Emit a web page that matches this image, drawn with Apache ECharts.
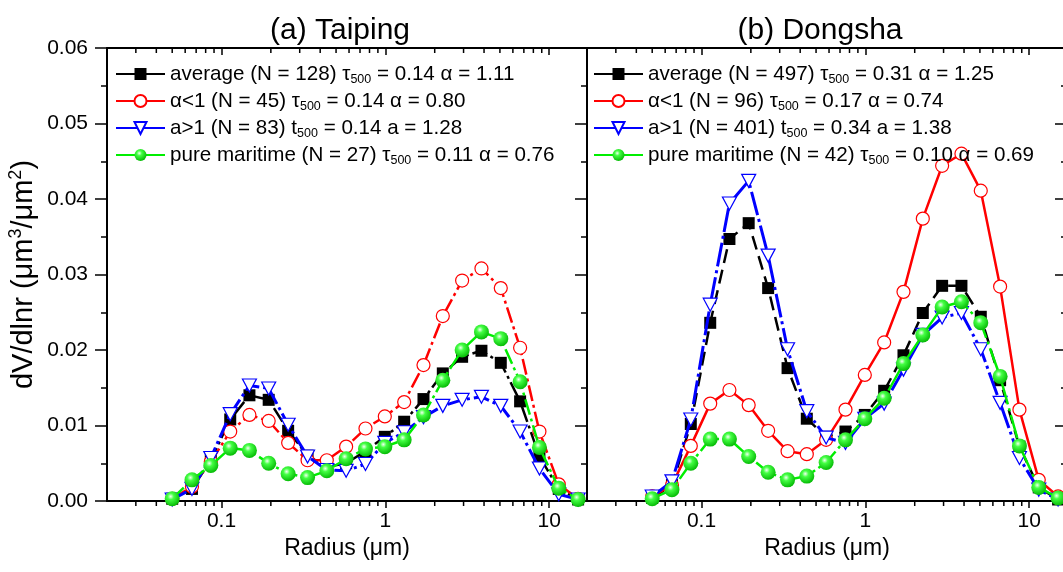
<!DOCTYPE html>
<html><head><meta charset="utf-8">
<script src="https://cdn.jsdelivr.net/npm/echarts@6/dist/echarts.min.js"></script>
<style>html,body{margin:0;padding:0;background:#fff}#c{width:1063px;height:572px}</style>
</head><body><div id="c"></div>
<script>
// ---- data ----
const radius = [0.050, 0.066, 0.086, 0.113, 0.148, 0.194, 0.255, 0.335, 0.439, 0.576, 0.756, 0.992, 1.302, 1.708, 2.241, 2.940, 3.857, 5.061, 6.641, 8.713, 11.432, 15.000];

const taipingAverage  = [0.0003, 0.0016, 0.0054, 0.0108, 0.0140, 0.0134, 0.0093, 0.0060, 0.0045, 0.0050, 0.0066, 0.0085, 0.0105, 0.0135, 0.0169, 0.0191, 0.0199, 0.0183, 0.0132, 0.0059, 0.0016, 0.0002];
const taipingAlphaLow = [0.0003, 0.0019, 0.0052, 0.0092, 0.0114, 0.0106, 0.0077, 0.0054, 0.0054, 0.0072, 0.0096, 0.0112, 0.0131, 0.0180, 0.0245, 0.0292, 0.0308, 0.0282, 0.0203, 0.0092, 0.0022, 0.0003];
const taipingAlphaHigh= [0.0002, 0.0016, 0.0057, 0.0115, 0.0153, 0.0149, 0.0101, 0.0059, 0.0041, 0.0040, 0.0049, 0.0077, 0.0091, 0.0111, 0.0126, 0.0134, 0.0138, 0.0126, 0.0092, 0.0043, 0.0009, 0.0002];
const taipingMaritime = [0.0003, 0.0028, 0.0047, 0.0070, 0.0067, 0.0050, 0.0036, 0.0031, 0.0040, 0.0056, 0.0069, 0.0072, 0.0081, 0.0114, 0.0160, 0.0200, 0.0224, 0.0215, 0.0158, 0.0071, 0.0017, 0.0002];

const dongshaAverage  = [0.0004, 0.0021, 0.0102, 0.0236, 0.0347, 0.0368, 0.0282, 0.0176, 0.0109, 0.0085, 0.0092, 0.0114, 0.0146, 0.0193, 0.0249, 0.0285, 0.0285, 0.0244, 0.0160, 0.0072, 0.0018, 0.0002];
const dongshaAlphaLow = [0.0006, 0.0021, 0.0073, 0.0129, 0.0147, 0.0127, 0.0093, 0.0066, 0.0062, 0.0081, 0.0121, 0.0167, 0.0210, 0.0277, 0.0374, 0.0444, 0.0460, 0.0411, 0.0284, 0.0121, 0.0028, 0.0006];
const dongshaAlphaHigh= [0.0006, 0.0026, 0.0108, 0.0260, 0.0394, 0.0424, 0.0325, 0.0201, 0.0119, 0.0084, 0.0077, 0.0109, 0.0129, 0.0174, 0.0220, 0.0243, 0.0249, 0.0201, 0.0130, 0.0057, 0.0015, 0.0002];
const dongshaMaritime = [0.0003, 0.0015, 0.0050, 0.0082, 0.0082, 0.0059, 0.0038, 0.0028, 0.0033, 0.0051, 0.0081, 0.0109, 0.0136, 0.0182, 0.0220, 0.0257, 0.0264, 0.0236, 0.0165, 0.0073, 0.0018, 0.0004];

const panelTitles = ['(a) Taiping', '(b) Dongsha'];
const xTickLabels = ['0.1', '1', '10'];
const xAxisTitle = 'Radius (\u03bcm)';
const yAxisTitle = 'dV/dlnr (\u03bcm{sup|3}/\u03bcm{sup|2})';
const taipingLegend = [
  'average (N = 128) \u03c4{s|500} = 0.14 \u03b1 = 1.11',
  '\u03b1<1 (N = 45) \u03c4{s|500} = 0.14 \u03b1 = 0.80',
  'a>1 (N = 83) t{s|500} = 0.14 a = 1.28',
  'pure maritime (N = 27) \u03c4{s|500} = 0.11 \u03b1 = 0.76'
];
const dongshaLegend = [
  'average (N = 497) \u03c4{s|500} = 0.31 \u03b1 = 1.25',
  '\u03b1<1 (N = 96) \u03c4{s|500} = 0.17 \u03b1 = 0.74',
  'a>1 (N = 401) t{s|500} = 0.34 a = 1.38',
  'pure maritime (N = 42) \u03c4{s|500} = 0.10 \u03b1 = 0.69'
];

// ---- layout / style ----
const FONT = 'Arial, "Liberation Sans", sans-serif';
const GRID_TOP = 48, GRID_H = 453, PANEL_W = 480;
const PANEL_LEFT = [107, 587];
const XMIN = 0.02, XMAX = 17;

const chart = echarts.init(document.getElementById('c'), null, {renderer: 'canvas'});

const greenBall = new echarts.graphic.RadialGradient(0.4, 0.35, 0.7, [
  {offset: 0, color: '#f2fff2'},
  {offset: 0.3, color: '#44ff44'},
  {offset: 1, color: '#00b400'}
]);

const dashDot = [16, 4, 3, 4];
const triPath = 'path://M0,0L10,0L5,9Z';
const seriesStyles = [
  [ // Taiping
    {symbol: 'rect', symbolSize: 12, itemStyle: {color: '#000'}, lineStyle: {color: '#000', width: 2.5, type: dashDot}},
    {symbol: 'circle', symbolSize: 13, itemStyle: {color: '#fff', borderColor: '#ff0000', borderWidth: 1.2}, lineStyle: {color: '#ff0000', width: 2.5, type: dashDot}},
    {symbol: triPath, symbolSize: [14, 13], itemStyle: {color: '#fff', borderColor: '#0000ff', borderWidth: 1.2}, lineStyle: {color: '#0000ff', width: 3, type: dashDot}},
    {symbol: 'circle', symbolSize: 15, itemStyle: {color: greenBall}, lineStyle: {color: '#00ee00', width: 2.5, type: dashDot}}
  ],
  [ // Dongsha
    {symbol: 'rect', symbolSize: 12, itemStyle: {color: '#000'}, lineStyle: {color: '#000', width: 2.5, type: [14, 7]}},
    {symbol: 'circle', symbolSize: 13, itemStyle: {color: '#fff', borderColor: '#ff0000', borderWidth: 1.2}, lineStyle: {color: '#ff0000', width: 2.5, type: 'solid'}},
    {symbol: triPath, symbolSize: [14, 13], itemStyle: {color: '#fff', borderColor: '#0000ff', borderWidth: 1.2}, lineStyle: {color: '#0000ff', width: 3, type: [24, 4, 3, 4]}},
    {symbol: 'circle', symbolSize: 15, itemStyle: {color: greenBall}, lineStyle: {color: '#00ee00', width: 2.5, type: [24, 4, 3, 4]}}
  ]
];

const panelData = [
  [taipingAverage, taipingAlphaLow, taipingAlphaHigh, taipingMaritime],
  [dongshaAverage, dongshaAlphaLow, dongshaAlphaHigh, dongshaMaritime]
];
const panelLegend = [taipingLegend, dongshaLegend];
const panelKey = ['A', 'B'];

const legendMap = {};
const series = [];
const grids = [], xAxes = [], yAxes = [], legends = [];

for (let p = 0; p < 2; p++) {
  grids.push({left: PANEL_LEFT[p], top: GRID_TOP, width: PANEL_W, height: GRID_H, containLabel: false, outerBoundsMode: 'none'});
  const axisLine = {show: true, onZero: false, lineStyle: {color: '#000', width: 2}};
  xAxes.push({
    gridIndex: p, type: 'log', logBase: 10, min: XMIN, max: XMAX, position: 'bottom',
    axisLine, splitLine: {show: false},
    axisTick: {show: true, inside: false, length: 7, lineStyle: {color: '#000', width: 1.5}},
    axisLabel: {show: true, color: '#000', fontSize: 21, fontFamily: FONT, margin: 10,
      showMinLabel: false, showMaxLabel: false,
      formatter: v => { const s = String(+(+v).toPrecision(3)); return xTickLabels.includes(s) ? s : ''; }},
    name: xAxisTitle, nameLocation: 'middle', nameGap: 36,
    nameTextStyle: {color: '#000', fontSize: 23, fontFamily: FONT}
  });
  xAxes.push({
    gridIndex: p, type: 'log', logBase: 10, min: XMIN, max: XMAX, position: 'top',
    axisLine, splitLine: {show: false},
    axisTick: {show: true, inside: true, length: 7, lineStyle: {color: '#000', width: 1.5}},
    axisLabel: {show: false}
  });
  yAxes.push({
    gridIndex: p, type: 'value', min: 0, max: 0.06, interval: 0.01, position: 'left',
    axisLine, splitLine: {show: false},
    axisTick: {show: true, inside: false, length: 12, lineStyle: {color: '#000', width: 1.5}},
    minorTick: {show: true, splitNumber: 2, length: 6, lineStyle: {color: '#000', width: 1.5}},
    axisLabel: p === 0 ? {show: true, color: '#000', fontSize: 21, fontFamily: FONT, margin: 19,
      formatter: v => v.toFixed(2)} : {show: false},
    name: p === 0 ? yAxisTitle : '', nameLocation: 'middle', nameGap: 66,
    nameTextStyle: {color: '#000', fontSize: 29, fontFamily: FONT, lineHeight: 34,
      rich: {sup: {fontSize: 18, lineHeight: 18, verticalAlign: 'top', fontFamily: FONT, color: '#000'}}}
  });
  yAxes.push({
    gridIndex: p, type: 'value', min: 0, max: 0.06, interval: 0.01, position: 'right',
    axisLine, splitLine: {show: false},
    axisTick: {show: p === 1, inside: true, length: 12, lineStyle: {color: '#000', width: 1.5}},
    minorTick: {show: p === 1, splitNumber: 2, length: 6, lineStyle: {color: '#000', width: 1.5}},
    axisLabel: {show: false}
  });

  const names = [];
  for (let k = 0; k < 4; k++) {
    const nm = panelKey[p] + k;
    names.push(nm);
    legendMap[nm] = panelLegend[p][k];
    const st = seriesStyles[p][k];
    series.push({
      name: nm, type: 'line', xAxisIndex: 2 * p, yAxisIndex: 2 * p,
      data: radius.map((r, i) => [r, panelData[p][k][i]]),
      symbol: st.symbol, symbolSize: st.symbolSize, showSymbol: true,
      itemStyle: st.itemStyle, lineStyle: st.lineStyle,
      emphasis: {disabled: true}, z: 2 + k
    });
  }
  legends.push({
    orient: 'vertical', left: PANEL_LEFT[p] + (p === 0 ? 8 : 6), top: 62, padding: 0,
    itemWidth: 49, itemHeight: 15, itemGap: 3, selectedMode: false, data: names,
    formatter: n => legendMap[n],
    lineStyle: {type: 'solid'},
    textStyle: {color: '#000', fontSize: 20.6, fontFamily: FONT, lineHeight: 24,
      rich: {s: {fontSize: 12.5, lineHeight: 12, verticalAlign: 'bottom', fontFamily: FONT, color: '#000'}}}
  });
}

chart.setOption({
  animation: false,
  backgroundColor: '#fff',
  grid: grids, xAxis: xAxes, yAxis: yAxes, legend: legends, series
});

const graphics = [];
const minorVals = [];
[0.01, 0.1, 1, 10].forEach(d => { for (let k = 2; k <= 9; k++) { const v = d * k; if (v > XMIN * 1.0001 && v < XMAX * 0.9999) minorVals.push(v); } });
for (let p = 0; p < 2; p++) {
  minorVals.forEach(v => {
    const x = chart.convertToPixel({xAxisIndex: 2 * p}, v);
    graphics.push({type: 'line', silent: true, shape: {x1: x, y1: GRID_TOP + GRID_H, x2: x, y2: GRID_TOP + GRID_H + 5}, style: {stroke: '#000', lineWidth: 1.5}});
    graphics.push({type: 'line', silent: true, shape: {x1: x, y1: GRID_TOP, x2: x, y2: GRID_TOP + 5}, style: {stroke: '#000', lineWidth: 1.5}});
  });
  graphics.push({type: 'text', silent: true, x: PANEL_LEFT[p] + PANEL_W / 2 - 7, y: 31,
    style: {text: panelTitles[p], fontSize: 30, fontFamily: FONT, fill: '#000', align: 'center', verticalAlign: 'middle'}});
}
chart.setOption({graphic: graphics});
</script></body></html>
